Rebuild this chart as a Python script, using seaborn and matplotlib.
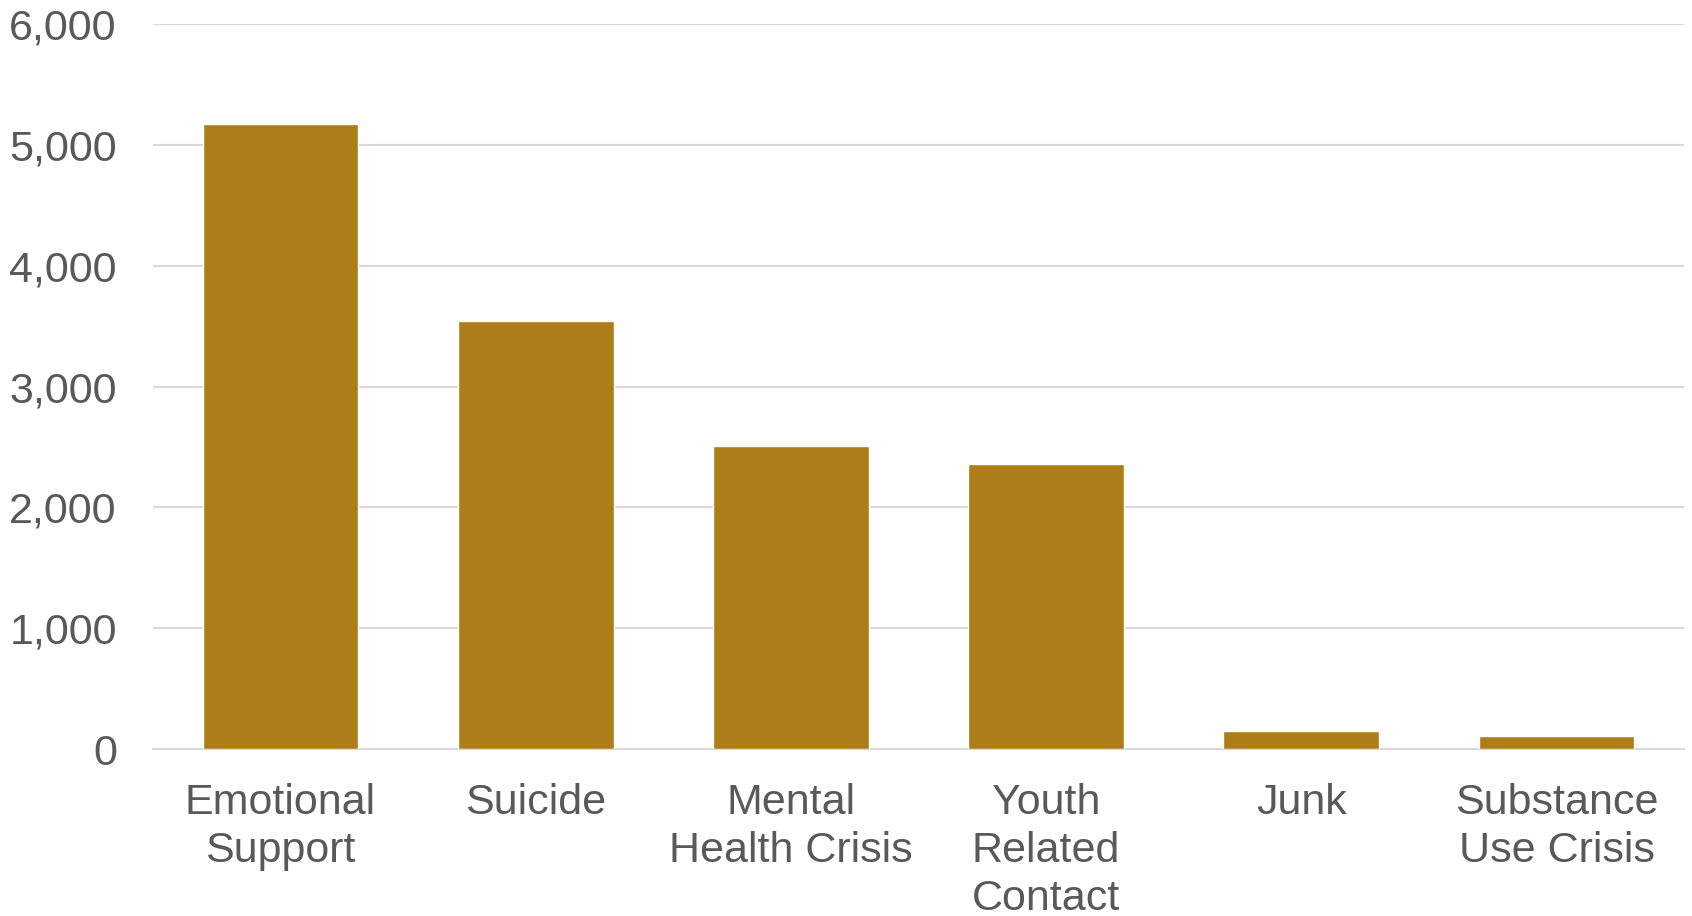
import matplotlib
matplotlib.use("Agg")
import matplotlib.pyplot as plt
import seaborn as sns
import pandas as pd
from matplotlib.ticker import FuncFormatter

categories = ["Emotional\nSupport", "Suicide", "Mental\nHealth Crisis",
              "Youth\nRelated\nContact", "Junk", "Substance\nUse Crisis"]
values = [5170, 3545, 2510, 2362, 148, 112]
yticks = [0, 1000, 2000, 3000, 4000, 5000, 6000]

sns.set_theme(style="white")
plt.rcParams['font.family'] = ['Liberation Sans', 'DejaVu Sans']

df = pd.DataFrame({"cat": categories, "val": values})
fig = plt.figure(figsize=(16.92, 9.16), dpi=100)
ax = fig.add_axes([0.0904, 0.182, 0.9049, 0.792])
sns.barplot(data=df, x="cat", y="val", color="#AD7D1A", saturation=1,
            width=0.61, ax=ax, zorder=3)
ax.set_xlim(-0.5, 5.5)
ax.set_ylim(0, 6000)
ax.set_yticks(yticks)
ax.yaxis.set_major_formatter(FuncFormatter(lambda v, p: f"{int(v):,}"))
ax.grid(axis="y", color="#D9D9D9", linewidth=1.5, zorder=0)
ax.set_axisbelow(True)
for s in ["top", "right", "left"]:
    ax.spines[s].set_visible(False)
ax.spines["bottom"].set_color("#D9D9D9")
ax.spines["bottom"].set_linewidth(1.5)
ax.tick_params(axis="y", length=0, pad=26, labelsize=31, labelcolor="#595959")
ax.tick_params(axis="x", length=0, pad=24, labelsize=31, labelcolor="#595959")
for t in ax.get_xticklabels():
    t.set_linespacing(1.26)
ax.set_xlabel("")
ax.set_ylabel("")
fig.savefig("out.png", dpi=100)
